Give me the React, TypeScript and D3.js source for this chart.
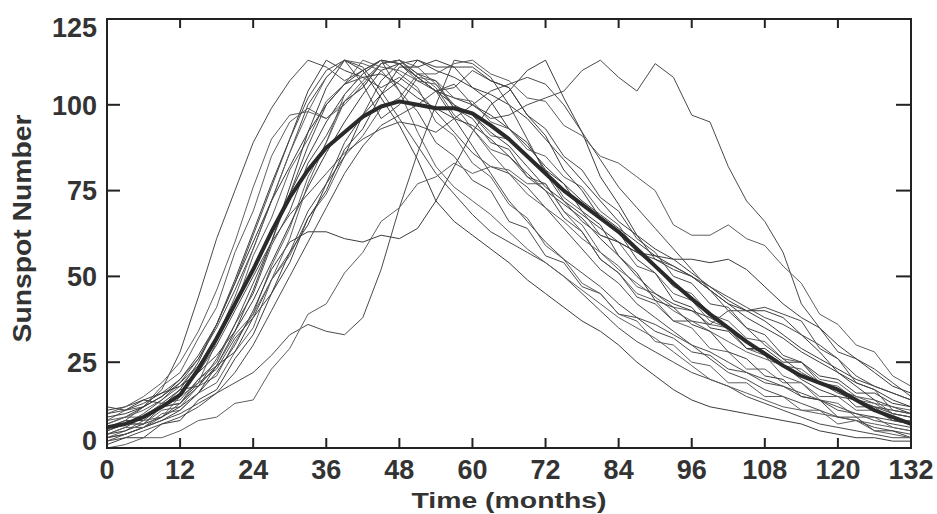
import React from "react";
import * as d3 from "d3";

// months sampled every 3 months, 0..132
const months: number[] = d3.range(0, 133, 3);

const xTicks: number[] = [0, 12, 24, 36, 48, 60, 72, 84, 96, 108, 120, 132];
const yTicks: number[] = [0, 25, 50, 75, 100, 125];

// individual cycles (thin lines)
const cycle01 = [6,8,12,17,28, 44,61,75,89,99, 107,113,111,107,110, 113,104,98,89,85, 78,75,66,64,56, 54,47,45,39,38, 34,32,28,27,23, 22,19,18,15,14, 11,10,8,7,6];
const cycle02 = [8,11,12,18,22, 32,41,57,69,85, 95,99,96,101,105, 112,113,109,105,97, 93,87,85,79,77, 69,65,57,53,47, 45,41,40,36,35, 29,28,24,23,19, 18,14,13,10,9];
const cycle03 = [4,6,9,12,17, 25,36,49,63,77, 90,104,113,110,108, 109,106,102,99,96, 94,90,85,80,75, 71,67,61,56,50, 45,42,40,38,35, 31,27,24,20,17, 15,14,12,11,10];
const cycle04 = [10,11,13,16,20, 26,35,46,58,72, 86,100,108,113,111, 104,96,88,80,74, 68,63,60,57,54, 50,45,40,35,31, 28,25,22,20,18, 15,13,11,9,7, 6,5,4,3,3];
const cycle05 = [3,5,8,9,15, 19,31,41,56,67, 81,90,101,106,113, 111,110,107,106,99, 97,91,90,85,81, 73,69,62,60,53, 51,45,43,37,35, 29,27,21,19,14, 13,9,9,6,5];
const cycle06 = [7,9,12,15,19, 24,32,42,52,63, 74,85,95,103,109, 113,112,108,104,102, 100,97,93,88,82, 77,72,68,64,60, 56,53,50,46,42, 38,35,32,28,25, 22,19,17,14,12];
const cycle07 = [2,4,6,9,13, 18,26,36,48,60, 74,88,100,106,108, 105,108,104,98,92, 86,82,80,76,70, 64,58,52,48,42, 38,34,30,26,22, 20,17,15,13,11, 9,8,6,5,4];
const cycle08 = [5,7,7,11,12, 18,21,31,39,53, 64,79,89,101,107, 112,113,108,107,102, 101,95,93,87,85, 79,76,69,65,57, 53,47,45,39,37, 32,31,26,25,20, 19,15,14,10,9];
const cycle09 = [11,12,14,16,18, 22,27,34,43,54, 65,76,86,95,103, 110,112,113,110,108, 105,103,100,96,90, 84,78,72,66,62, 58,55,51,47,43, 40,37,33,29,26, 23,20,18,16,14];
const cycle10 = [6,8,8,12,13, 19,23,32,38,49, 57,69,77,89,97, 107,112,107,104,105, 110,107,105,97,93, 85,81,73,69,61, 57,50,48,42,41, 35,33,27,25,19, 17,12,12,8,7];
const cycle11 = [8,9,11,14,18, 24,32,44,58,72, 86,98,108,113,112, 110,104,92,82,76, 72,68,63,58,54, 50,46,42,38,35, 32,28,24,20,18, 16,14,12,11,10, 9,8,7,6,5];
const cycle12 = [3,4,6,8,11, 16,24,34,46,60, 76,92,105,113,110, 102,94,84,72,66, 62,58,54,49,45, 41,37,34,30,25, 21,17,14,12,11, 10,9,8,7,5, 4,3,3,2,2];
const cycle13 = [3,4,6,8,10, 13,16,19,22,27, 33,36,34,33,38, 52,70,86,100,113, 112,108,100,90,80, 72,66,62,60,57, 55,53,50,47,44, 41,38,36,33,30, 26,21,18,16,14];
const cycle14 = [0,1,3,3,5, 8,9,13,14,23, 29,39,42,51,57, 66,70,77,79,83, 80,82,81,77,77, 69,63,55,51,45, 43,37,35,29,28, 23,23,19,19,15, 15,11,11,8,8];
const cycle15 = [4,5,7,9,12, 16,22,30,40,52, 60,63,63,61,60, 62,61,64,72,82, 92,100,104,110,113, 102,92,79,71,62, 55,52,50,46,42, 40,40,38,33,28, 22,18,14,12,10];
const cycle16 = [2,3,5,7,9, 12,16,22,30,40, 50,60,70,80,88, 94,97,100,104,106, 100,96,97,100,102, 104,110,113,108,104, 112,108,97,95,82, 72,66,57,42,35, 28,26,23,19,15];
const cycle17 = [7,9,9,13,14, 20,24,33,39,49, 56,67,74,85,91, 99,102,109,109,112, 113,109,107,102,101, 94,91,85,83,79, 75,65,62,62,65, 61,59,53,48,39, 36,30,28,21,18];
const cycle18 = [9,10,12,15,20, 27,36,48,60,72, 82,92,100,106,110, 113,112,108,104,100, 97,92,88,82,76, 72,68,64,60,57, 56,55,55,54,55, 52,47,42,38,35, 30,26,22,18,16];
const cycle19 = [5,7,7,12,13, 20,25,36,45,59, 69,83,91,101,105, 112,113,109,107,99, 96,89,87,79,75, 67,63,55,51,44, 42,37,37,36,40, 40,41,39,37,29, 26,19,17,11,10];
const cycle20 = [10,12,15,19,25, 34,46,60,76,90, 97,98,96,100,106, 112,113,111,106,100, 93,86,80,74,70, 66,61,57,52,48, 44,40,37,34,31, 28,26,24,21,19, 17,15,13,12,11];
const cycle21 = [1,3,3,7,8, 14,17,26,33,45, 54,67,75,87,93, 103,107,113,111,111, 105,101,93,89,81, 77,69,65,56,51, 43,41,36,34,28, 26,21,20,15,14, 9,9,5,5,3];
const cycle22 = [6,7,9,12,16, 22,30,40,50,60, 68,74,80,86,90, 93,95,94,92,96, 100,104,106,108,106, 100,92,84,76,70, 64,58,52,46,40, 35,30,26,22,19, 16,14,12,10,9];
const cycle23 = [4,6,6,10,11, 16,19,28,35,49, 61,77,89,103,109, 113,109,105,95,91, 83,79,71,67,59, 55,48,45,39,37, 31,30,25,24,19, 19,15,15,11,11, 7,8,5,4,3];
const cycle24 = [12,11,14,13,17, 18,24,28,38,45, 57,65,77,85,97, 103,111,111,113,111, 111,107,105,97,91, 81,75,67,63,55, 51,43,41,35,34, 29,29,25,25,21, 20,16,16,13,12];
const cycle25 = [5,7,10,14,19, 26,36,48,62,76, 90,102,110,113,106, 96,100,108,104,96, 88,80,72,66,60, 55,51,47,42,38, 36,33,30,28,25, 22,20,18,16,14, 12,10,9,8,7];

// average cycle (thick line)
const meanCycle = [6,7,9,12,15.5, 23,32,42,52,63, 73,81,87.5,92,96.5, 99.5,101,100,99,99, 97.5,94,90,85,80, 75,71,67,63,58, 53,48,43.5,39,35, 31,27.5,24,21,19, 17,14,11,9,7];

const cycles: number[][] = [
  cycle01, cycle02, cycle03, cycle04, cycle05, cycle06, cycle07, cycle08, cycle09, cycle10,
  cycle11, cycle12, cycle13, cycle14, cycle15, cycle16, cycle17, cycle18, cycle19, cycle20,
  cycle21, cycle22, cycle23, cycle24, cycle25,
];

const W = 937;
const H = 514;
const M = { left: 107, right: 911, top: 19, bottom: 448 };
const FONT = "'Liberation Sans', Arial, Helvetica, sans-serif";

export default function App() {
  const x = d3.scaleLinear().domain([0, 132]).range([M.left, M.right]);
  const y = d3.scaleLinear().domain([0, 125]).range([M.bottom, M.top]);
  const line = d3
    .line<number>()
    .x((_, i) => x(months[i]))
    .y((d) => y(d))
    .curve(d3.curveLinear);

  return (
    <svg
      width={W}
      height={H}
      style={{ position: "absolute", left: 0, top: 0, background: "#fff" }}
    >
      <defs>
        <clipPath id="plot">
          <rect x={M.left} y={M.top} width={M.right - M.left} height={M.bottom - M.top} />
        </clipPath>
      </defs>
      <g clipPath="url(#plot)">
        {cycles.map((c, i) => (
          <path
            key={i}
            d={line(c) || ""}
            fill="none"
            stroke={i % 3 === 0 ? "#4a4a4a" : i % 3 === 1 ? "#5e5e5e" : "#3c3c3c"}
            strokeWidth={1}
            strokeLinejoin="round"
          />
        ))}
        <path
          d={line(meanCycle) || ""}
          fill="none"
          stroke="#2a2a2a"
          strokeWidth={4}
          strokeLinejoin="round"
          strokeLinecap="round"
        />
      </g>
      {/* frame */}
      <rect
        x={M.left}
        y={M.top}
        width={M.right - M.left}
        height={M.bottom - M.top}
        fill="none"
        stroke="#222"
        strokeWidth={2}
      />
      {/* x ticks */}
      {xTicks.slice(1, -1).map((t) => (
        <g key={"xt" + t} stroke="#222" strokeWidth={2}>
          <line x1={x(t)} x2={x(t)} y1={M.bottom} y2={M.bottom - 10} />
          <line x1={x(t)} x2={x(t)} y1={M.top} y2={M.top + 9} />
        </g>
      ))}
      {xTicks.map((t) => (
        <text
          key={"xl" + t}
          x={x(t)}
          y={479}
          textAnchor="middle"
          fontFamily={FONT}
          fontWeight="bold"
          fontSize={27}
          fill="#333"
        >
          {t}
        </text>
      ))}
      {/* y ticks */}
      {yTicks.slice(1, -1).map((t) => (
        <g key={"yt" + t} stroke="#222" strokeWidth={2}>
          <line x1={M.left} x2={M.left + 13} y1={y(t)} y2={y(t)} />
          <line x1={M.right} x2={M.right - 15} y1={y(t)} y2={y(t)} />
        </g>
      ))}
      {yTicks.map((t) => (
        <text
          key={"yl" + t}
          x={97}
          y={y(t) + (t === 125 ? 8 : t === 0 ? -8 : 0)}
          dy="0.36em"
          textAnchor="end"
          fontFamily={FONT}
          fontWeight="bold"
          fontSize={27}
          fill="#333"
        >
          {t}
        </text>
      ))}
      <text
        x={(M.left + M.right) / 2}
        y={508}
        textAnchor="middle"
        fontFamily={FONT}
        fontWeight="bold"
        fontSize={22}
        textLength={195}
        lengthAdjust="spacingAndGlyphs"
        fill="#333"
      >
        Time (months)
      </text>
      <text
        transform={`translate(31, ${(M.top + M.bottom) / 2 - 5}) rotate(-90)`}
        textAnchor="middle"
        fontFamily={FONT}
        fontWeight="bold"
        fontSize={25}
        textLength={228}
        lengthAdjust="spacingAndGlyphs"
        fill="#333"
      >
        Sunspot Number
      </text>
    </svg>
  );
}
